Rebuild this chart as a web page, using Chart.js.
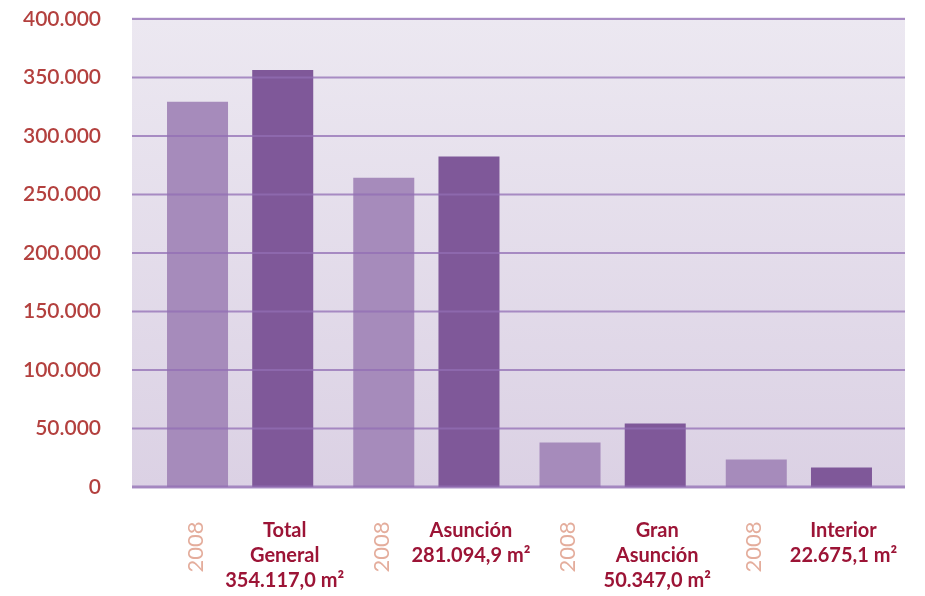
<!DOCTYPE html>
<html>
<head>
<meta charset="utf-8">
<script src="https://cdn.jsdelivr.net/npm/chart.js@4"></script>
<style>
  html, body { margin: 0; padding: 0; background: #fff; }
  #wrap { width: 925px; height: 596px; position: relative; }
</style>
</head>
<body>
<div id="wrap"><canvas id="chart"></canvas></div>
<script>
// data
const categories = ["Total General", "Asunción", "Gran Asunción", "Interior"];
const categoryLines = [
    ["Total", "General", "354.117,0 m²"],
    ["Asunción", "281.094,9 m²"],
    ["Gran", "Asunción", "50.347,0 m²"],
    ["Interior", "22.675,1 m²"]
];
const yearLabel = "2008";
const values2008 = [329300, 264400, 38000, 23500];
const valuesNow = [356500, 282400, 54200, 16700];
const yTicks = [0, 50000, 100000, 150000, 200000, 250000, 300000, 350000, 400000];

function formatThousands(v) {
    return String(v).replace(/\B(?=(\d{3})+(?!\d))/g, ".");
}

const panelPlugin = {
    id: "panel",
    beforeDraw(chart) {
        const ctx = chart.ctx;
        const a = chart.chartArea;
        const grad = ctx.createLinearGradient(0, a.top, 0, a.bottom);
        grad.addColorStop(0, "#ece8f1");
        grad.addColorStop(1, "#dbd1e4");
        ctx.save();
        ctx.fillStyle = grad;
        ctx.fillRect(a.left - 15, a.top - 2, a.right - a.left + 28, a.bottom - a.top + 3);
        ctx.restore();
    },
    afterDatasetsDraw(chart) {
        const ctx = chart.ctx;
        const a = chart.chartArea;
        const y = chart.scales.y;
        ctx.save();
        ctx.strokeStyle = "rgba(145,110,180,0.75)";
        y.ticks.forEach(t => {
            const py = y.getPixelForValue(t.value);
            ctx.lineWidth = t.value === 0 ? 3 : 2;
            ctx.beginPath();
            ctx.moveTo(a.left - 15, py);
            ctx.lineTo(a.right + 13, py);
            ctx.stroke();
        });
        ctx.restore();
    },
    afterDraw(chart) {
        const ctx = chart.ctx;
        const oldBars = chart.getDatasetMeta(0).data;
        const newBars = chart.getDatasetMeta(1).data;
        ctx.save();
        categories.forEach((c, i) => {
            // rotated year label under the first bar
            ctx.save();
            ctx.translate(oldBars[i].x - 2, 547);
            ctx.rotate(-Math.PI / 2);
            ctx.font = "400 22px Lato";
            ctx.fillStyle = "#e4ad9c";
            ctx.textAlign = "center";
            ctx.textBaseline = "middle";
            ctx.fillText(yearLabel, 0, 0);
            ctx.restore();

            ctx.font = "bold 20px Lato";
            ctx.fillStyle = "#9c1436";
            ctx.textAlign = "center";
            ctx.textBaseline = "middle";
            categoryLines[i].forEach((line, k) => {
                ctx.fillText(line, newBars[i].x + 2, 531 + k * 25);
            });
        });
        ctx.restore();
    }
};

const ctx = document.getElementById("chart").getContext("2d");
new Chart(ctx, {
    type: "bar",
    data: {
        labels: categories,
        datasets: [
            {
                label: yearLabel,
                data: values2008,
                backgroundColor: "#a68bbb",
                categoryPercentage: 0.915,
                barPercentage: 0.716
            },
            {
                label: "actual",
                data: valuesNow,
                backgroundColor: "#7f5899",
                categoryPercentage: 0.915,
                barPercentage: 0.716
            }
        ]
    },
    options: {
        responsive: true,
        maintainAspectRatio: false,
        animation: false,
        layout: { padding: { top: 19, right: 33, bottom: 109, left: 0 } },
        plugins: {
            legend: { display: false },
            tooltip: { enabled: false }
        },
        scales: {
            x: { display: false },
            y: {
                min: 0,
                max: 400000,
                afterBuildTicks(scale) {
                    scale.ticks = yTicks.map(v => ({ value: v }));
                },
                afterFit(scale) {
                    scale.width = 147;
                    // tick padding would otherwise push the plot down
                    scale.paddingTop = 10;
                    scale.paddingBottom = 10;
                },
                grid: { display: false, drawTicks: false },
                border: { display: false },
                ticks: {
                    padding: 46,
                    color: "#b3403e",
                    font: { family: "Lato", size: 21, weight: "600" },
                    callback: v => formatThousands(v)
                }
            }
        }
    },
    plugins: [panelPlugin]
});
</script>
</body>
</html>
